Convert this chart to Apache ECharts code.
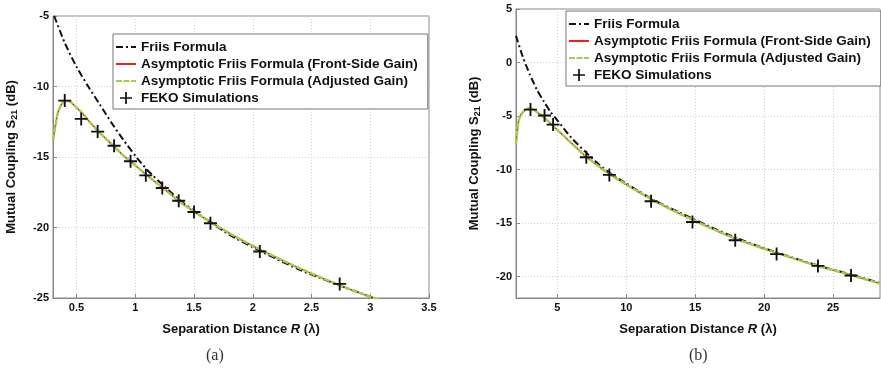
<!DOCTYPE html>
<html>
<head>
<meta charset="utf-8">
<script src="https://cdn.jsdelivr.net/npm/echarts@6/dist/echarts.min.js"></script>
<style>
html,body{margin:0;padding:0;background:#fff;}
#c{width:881px;height:373px;}
</style>
</head>
<body>
<div id="c"></div>
<script>
// ---------- data ----------
var seriesNames = ['Friis Formula', 'Asymptotic Friis Formula (Front-Side Gain)', 'Asymptotic Friis Formula (Adjusted Gain)', 'FEKO Simulations'];
var panelLabels = ['(a)', '(b)'];

// panel (a)
var xTicksA = [0.5, 1, 1.5, 2, 2.5, 3, 3.5];
var friisA = [[0.31,-5.0],[0.40,-6.9],[0.50,-8.6],[0.60,-10.0],[0.70,-11.3],[0.80,-12.6],[0.90,-13.8],[1.00,-14.9],[1.10,-15.9],[1.25,-17.1],[1.40,-18.2],[1.60,-19.4],[1.80,-20.5],[2.00,-21.4],[2.40,-23.0],[2.80,-24.3],[3.20,-25.5]];
var asymFrontA = [[0.30,-13.8],[0.32,-12.8],[0.34,-11.9],[0.37,-11.3],[0.40,-11.0],[0.45,-11.1],[0.50,-11.5],[0.55,-11.9],[0.60,-12.4],[0.70,-13.3],[0.80,-14.1],[0.90,-14.9],[1.00,-15.6],[1.10,-16.3],[1.25,-17.3],[1.40,-18.3],[1.60,-19.4],[1.80,-20.4],[2.00,-21.3],[2.40,-22.9],[2.80,-24.3],[3.20,-25.5]];
var asymAdjA = [[0.30,-13.8],[0.32,-12.8],[0.34,-11.9],[0.37,-11.3],[0.40,-11.0],[0.45,-11.1],[0.50,-11.5],[0.55,-11.9],[0.60,-12.4],[0.70,-13.3],[0.80,-14.1],[0.90,-14.9],[1.00,-15.6],[1.10,-16.3],[1.25,-17.3],[1.40,-18.3],[1.60,-19.4],[1.80,-20.4],[2.00,-21.3],[2.40,-22.9],[2.80,-24.3],[3.20,-25.5]];
var fekoA = [[0.40,-11.0],[0.54,-12.3],[0.68,-13.2],[0.82,-14.2],[0.96,-15.3],[1.09,-16.3],[1.23,-17.2],[1.37,-18.1],[1.50,-18.9],[1.64,-19.7],[2.06,-21.7],[2.74,-24.0]];

// panel (b)
var xTicksB = [5, 10, 15, 20, 25];
var yTicksB = [-20, -15, -10, -5, 0, 5];
var friisB = [[2.0,2.5],[2.5,0.5],[3.0,-1.1],[3.5,-2.5],[4.0,-3.6],[4.5,-4.6],[5.0,-5.4],[6.0,-7.0],[7.0,-8.3],[8.0,-9.5],[9.0,-10.5],[10.0,-11.3],[12.0,-12.85],[14.0,-14.1],[16.0,-15.3],[18.0,-16.4],[20.0,-17.35],[22.0,-18.2],[24.0,-19.0],[26.0,-19.7],[28.4,-20.6]];
var asymFrontB = [[2.0,-7.6],[2.1,-6.3],[2.2,-5.4],[2.35,-4.9],[2.6,-4.5],[2.9,-4.3],[3.2,-4.35],[3.6,-4.7],[4.0,-5.1],[4.5,-5.7],[5.0,-6.3],[6.0,-7.5],[7.0,-8.7],[8.0,-9.7],[9.0,-10.6],[10.0,-11.4],[12.0,-12.9],[14.0,-14.2],[16.0,-15.4],[18.0,-16.5],[20.0,-17.4],[22.0,-18.25],[24.0,-19.05],[26.0,-19.75],[28.4,-20.65]];
var asymAdjB = [[2.0,-7.6],[2.1,-6.3],[2.2,-5.4],[2.35,-4.9],[2.6,-4.5],[2.9,-4.3],[3.2,-4.35],[3.6,-4.7],[4.0,-5.1],[4.5,-5.7],[5.0,-6.3],[6.0,-7.5],[7.0,-8.7],[8.0,-9.7],[9.0,-10.6],[10.0,-11.4],[12.0,-12.9],[14.0,-14.2],[16.0,-15.4],[18.0,-16.5],[20.0,-17.4],[22.0,-18.25],[24.0,-19.05],[26.0,-19.75],[28.4,-20.65]];
var fekoB = [[3.05,-4.4],[4.07,-4.95],[4.69,-5.8],[7.1,-8.85],[8.77,-10.5],[11.8,-12.96],[14.8,-14.9],[17.9,-16.6],[20.9,-17.9],[23.9,-19.0],[26.3,-19.9]];

// ---------- styling ----------
var FONT = '"Liberation Sans", Arial, sans-serif';
var crossPath = 'path://M6,0 H8 V6 H14 V8 H8 V14 H6 V8 H0 V6 H6 Z';

function xAxisCfg(gi, min, max, ticks) {
  return {
    type: 'value', gridIndex: gi, min: min, max: max,
    name: '{t|Separation Distance }{i|R}{t| (λ)}',
    nameLocation: 'middle', nameGap: 25,
    nameTextStyle: {
      rich: {
        t: {fontFamily: FONT, fontWeight: 'bold', fontSize: 13, color: '#111'},
        i: {fontFamily: FONT, fontWeight: 'bold', fontStyle: 'italic', fontSize: 13, color: '#111'}
      }
    },
    axisLine: {show: true, onZero: false, lineStyle: {color: '#888', width: 1}},
    axisTick: {show: true, inside: true, length: 4, customValues: ticks, lineStyle: {color: '#888'}},
    axisLabel: {customValues: ticks, margin: 4, fontFamily: FONT, fontWeight: 'bold', fontSize: 11, color: '#111'},
    splitLine: {show: true, lineStyle: {color: '#d0d0d0', type: [1, 2], width: 1}}
  };
}
function yAxisCfg(gi, min, max, ticks, interval) {
  var ax = {
    type: 'value', gridIndex: gi, min: min, max: max,
    name: '{t|Mutual Coupling S}{s|21}{t| (dB)}',
    nameLocation: 'middle', nameGap: 34,
    nameTextStyle: {
      rich: {
        t: {fontFamily: FONT, fontWeight: 'bold', fontSize: 13, color: '#111', lineHeight: 16},
        s: {fontFamily: FONT, fontWeight: 'bold', fontSize: 9, color: '#111', verticalAlign: 'bottom', padding: [6, 0, 0, 0]}
      }
    },
    axisLine: {show: true, onZero: false, lineStyle: {color: '#888', width: 1}},
    axisTick: {show: true, inside: true, length: 4, lineStyle: {color: '#888'}},
    axisLabel: {margin: 4, fontFamily: FONT, fontWeight: 'bold', fontSize: 11, color: '#111'},
    splitLine: {show: true, lineStyle: {color: '#d0d0d0', type: [1, 2], width: 1}}
  };
  if (ticks) { ax.axisTick.customValues = ticks; ax.axisLabel.customValues = ticks; }
  if (interval) { ax.interval = interval; }
  return ax;
}
function panelSeries(gi, friis, front, adj, feko) {
  return [
    {name: seriesNames[0], type: 'line', xAxisIndex: gi, yAxisIndex: gi, data: friis, showSymbol: false, symbol: 'none',
     smooth: 0.25, z: 3, clip: true,
     lineStyle: {color: '#111', width: 2, type: [7, 3, 2, 3]}, itemStyle: {color: '#111'}},
    {name: seriesNames[1], type: 'line', xAxisIndex: gi, yAxisIndex: gi, data: front, showSymbol: false, symbol: 'none',
     smooth: 0.25, z: 2, clip: true,
     lineStyle: {color: '#e8231b', width: 1.5, type: 'solid'}, itemStyle: {color: '#e8231b'}},
    {name: seriesNames[2], type: 'line', xAxisIndex: gi, yAxisIndex: gi, data: adj, showSymbol: false, symbol: 'none',
     smooth: 0.25, z: 4, clip: true,
     lineStyle: {color: '#a2cf52', width: 2.5, type: [6, 1.5]}, itemStyle: {color: '#a2cf52'}},
    {name: seriesNames[3], type: 'scatter', xAxisIndex: gi, yAxisIndex: gi, data: feko, symbol: crossPath, symbolSize: 13,
     z: 5, itemStyle: {color: '#111', opacity: 1}}
  ];
}
function legendCfg(left, top) {
  return {
    data: [
      {name: seriesNames[0], itemStyle: {opacity: 0}},
      {name: seriesNames[1], itemStyle: {opacity: 0}},
      {name: seriesNames[2], itemStyle: {opacity: 0}},
      {name: seriesNames[3]}
    ],
    orient: 'vertical', left: left, top: top,
    itemWidth: 20, itemHeight: 12, itemGap: 3,
    padding: [6, 10, 4, 2],
    backgroundColor: '#fff', borderColor: '#777', borderWidth: 1, borderRadius: 0,
    selectedMode: false,
    textStyle: {fontFamily: FONT, fontWeight: 'bold', fontSize: 13.5, color: '#111', lineHeight: 14}
  };
}

var chart = echarts.init(document.getElementById('c'), null, {renderer: 'canvas'});
chart.setOption({
  backgroundColor: '#fff',
  animation: false,
  grid: [
    {left: 53, top: 16, width: 376, height: 282, show: true, borderColor: '#888', borderWidth: 1, backgroundColor: '#fff'},
    {left: 516, top: 9, width: 364, height: 289, show: true, borderColor: '#888', borderWidth: 1, backgroundColor: '#fff'}
  ],
  xAxis: [xAxisCfg(0, 0.3, 3.5, xTicksA), xAxisCfg(1, 2, 28.4, xTicksB)],
  yAxis: [yAxisCfg(0, -25, -5, null, 5), yAxisCfg(1, -22, 5, yTicksB, null)],
  legend: [legendCfg(113, 34), legendCfg(566, 11)],
  series: panelSeries(0, friisA, asymFrontA, asymAdjA, fekoA).concat(panelSeries(1, friisB, asymFrontB, asymAdjB, fekoB)),
  graphic: [
    {type: 'text', left: 206, top: 348, style: {text: panelLabels[0], font: '16px "Liberation Serif", serif', fill: '#333'}},
    {type: 'text', left: 689, top: 348, style: {text: panelLabels[1], font: '16px "Liberation Serif", serif', fill: '#333'}}
  ]
});
</script>
</body>
</html>
